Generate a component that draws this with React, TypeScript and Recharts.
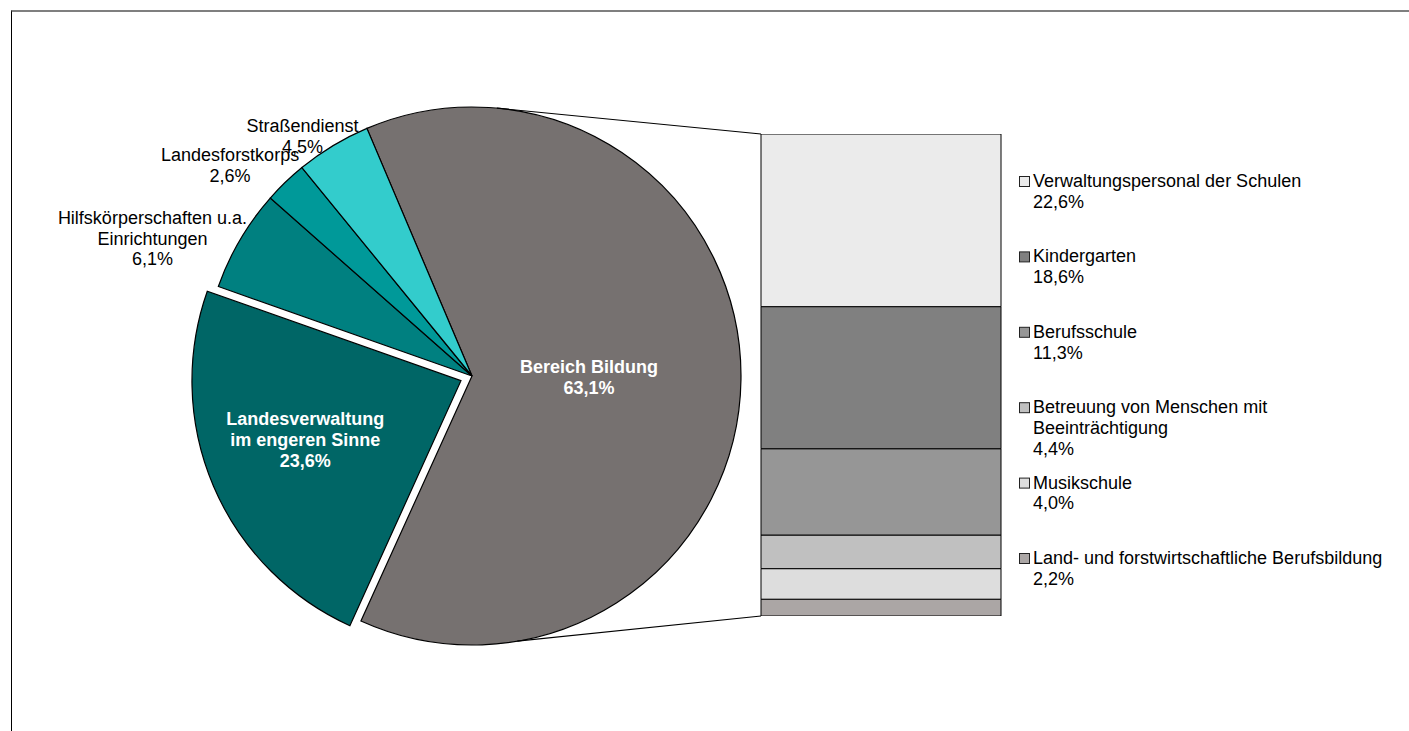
import { Bar, BarChart, Cell, Pie, PieChart, XAxis, YAxis } from "recharts";

// Pie: Personal des Landes nach Bereichen
const PIE_NAMES = [
  "Bereich Bildung",
  "Landesverwaltung im engeren Sinne",
  "Hilfskörperschaften u.a. Einrichtungen",
  "Landesforstkorps",
  "Straßendienst",
];
const PIE_VALUES = [63.1, 23.6, 6.1, 2.6, 4.5];
const PIE_LABEL_LINES = [
  ["Bereich Bildung"],
  ["Landesverwaltung", "im engeren Sinne"],
  ["Hilfskörperschaften u.a.", "Einrichtungen"],
  ["Landesforstkorps"],
  ["Straßendienst"],
];
const PIE_COLORS = ["#767170", "#006666", "#008080", "#009999", "#33cccc"];

// Bar: Aufteilung Bereich Bildung (top to bottom)
const BAR_NAMES = [
  "Verwaltungspersonal der Schulen",
  "Kindergarten",
  "Berufsschule",
  "Betreuung von Menschen mit Beeinträchtigung",
  "Musikschule",
  "Land- und forstwirtschaftliche Berufsbildung",
];
const BAR_VALUES = [22.6, 18.6, 11.3, 4.4, 4.0, 2.2];
const BAR_LABEL_LINES = [
  ["Verwaltungspersonal der Schulen"],
  ["Kindergarten"],
  ["Berufsschule"],
  ["Betreuung von Menschen mit", "Beeinträchtigung"],
  ["Musikschule"],
  ["Land- und forstwirtschaftliche Berufsbildung"],
];
const BAR_COLORS = ["#ebebeb", "#808080", "#969696", "#c0c0c0", "#dddddd", "#aba6a5"];

const W = 1409;
const H = 731;
const FONT = "'Liberation Sans', Arial, sans-serif";
const FS = 18;
const LH = 20.7;

const PIE_CX = 472;
const PIE_CY = 376;
const PIE_R = 269;
const START = 113;
const EXPLODE_INDEX = 1;
const EXPLODE = 12;

// label placement: distance from centre and angle shift relative to midAngle
const LABEL_LAYOUT = [
  { dist: 117, shift: 0, inside: true },
  { dist: 166.5, shift: -2.4, inside: true },
  { dist: 348, shift: 7.1, inside: false },
  { dist: 321, shift: 5.0, inside: false },
  { dist: 294, shift: 4.1, inside: false },
];

const BAR_LEFT = 760;
const BAR_TOP = 133;
const BAR_W = 242;
const BAR_H = 484;

const LEGEND_X = 1019;
const LEGEND_Y0 = 187;
const LEGEND_STEP = 75.4;

const RAD = Math.PI / 180;
const fmt = (v: number) => v.toFixed(1).replace(".", ",") + "%";
const total = BAR_VALUES.reduce((a, b) => a + b, 0);

const pieData = PIE_NAMES.map((name, i) => ({ name, value: PIE_VALUES[i] }));
const barRow: Record<string, number | string> = { name: "Bereich Bildung" };
BAR_NAMES.forEach((n, i) => (barRow[n] = BAR_VALUES[i]));
const barData = [barRow];

// angle of the "Bereich Bildung" slice centre, used for explode offset
const angles = (() => {
  const sum = PIE_VALUES.reduce((a, b) => a + b, 0);
  let a = START;
  return PIE_VALUES.map((v) => {
    const span = (v / sum) * 360;
    const mid = a - span / 2;
    a -= span;
    return mid;
  });
})();
const exMid = angles[EXPLODE_INDEX];
const EX_CX = PIE_CX + EXPLODE * Math.cos(-exMid * RAD);
const EX_CY = PIE_CY + EXPLODE * Math.sin(-exMid * RAD);

function makeLabel(exploded: boolean) {
  return (props: any) => {
    const { cx, cy, midAngle, index } = props;
    if ((index === EXPLODE_INDEX) !== exploded) return null;
    const lay = LABEL_LAYOUT[index];
    const ang = midAngle + lay.shift;
    const x = cx + lay.dist * Math.cos(-ang * RAD);
    const y = cy + lay.dist * Math.sin(-ang * RAD);
    const lines = [...PIE_LABEL_LINES[index], fmt(PIE_VALUES[index])];
    const y0 = y - ((lines.length - 1) * LH) / 2 + 6.4;
    return (
      <text
        key={`lbl-${index}`}
        x={x}
        y={y0}
        textAnchor="middle"
        fontFamily={FONT}
        fontSize={FS}
        fontWeight={lay.inside ? 700 : 400}
        fill={lay.inside ? "#ffffff" : "#000000"}
      >
        {lines.map((l, i) => (
          <tspan key={i} x={x} y={y0 + i * LH}>
            {l}
          </tspan>
        ))}
      </text>
    );
  };
}

export default function App() {
  const topPt = {
    x: PIE_CX + PIE_R * Math.cos(84.7 * RAD),
    y: PIE_CY - PIE_R * Math.sin(84.7 * RAD),
  };
  const botPt = {
    x: PIE_CX + PIE_R * Math.cos(-80.3 * RAD),
    y: PIE_CY - PIE_R * Math.sin(-80.3 * RAD),
  };
  const barX = BAR_LEFT + 1;
  const barTop = BAR_TOP + 1;
  const barBottom = BAR_TOP + BAR_H - 1;

  return (
    <div
      style={{
        position: "absolute",
        left: 0,
        top: 0,
        width: W,
        height: H,
        overflow: "hidden",
        background: "#fff",
        fontFamily: FONT,
      }}
    >
      <div
        style={{
          position: "absolute",
          left: 11,
          top: 10,
          width: W,
          height: H,
          borderTop: "2px solid #7f7f7f",
          borderLeft: "1px solid #000",
        }}
      />

      <div style={{ position: "absolute", left: 0, top: 0 }}>
        <PieChart width={W} height={H} margin={{ top: 0, right: 0, bottom: 0, left: 0 }}>
          <Pie
            data={pieData}
            dataKey="value"
            nameKey="name"
            cx={PIE_CX}
            cy={PIE_CY}
            outerRadius={PIE_R}
            startAngle={START}
            endAngle={START - 360}
            stroke="#000"
            strokeWidth={1.2}
            label={makeLabel(false)}
            labelLine={false}
            isAnimationActive={false}
          >
            {pieData.map((d, i) => (
              <Cell
                key={d.name}
                fill={i === EXPLODE_INDEX ? "none" : PIE_COLORS[i]}
                stroke={i === EXPLODE_INDEX ? "none" : "#000"}
              />
            ))}
          </Pie>
          <Pie
            data={pieData}
            dataKey="value"
            nameKey="name"
            cx={EX_CX}
            cy={EX_CY}
            outerRadius={PIE_R}
            startAngle={START}
            endAngle={START - 360}
            stroke="#000"
            strokeWidth={1.2}
            label={makeLabel(true)}
            labelLine={false}
            isAnimationActive={false}
          >
            {pieData.map((d, i) => (
              <Cell
                key={d.name}
                fill={i === EXPLODE_INDEX ? PIE_COLORS[i] : "none"}
                stroke={i === EXPLODE_INDEX ? "#000" : "none"}
              />
            ))}
          </Pie>
        </PieChart>
      </div>

      <div style={{ position: "absolute", left: BAR_LEFT, top: BAR_TOP }}>
        <BarChart
          width={BAR_W}
          height={BAR_H}
          data={barData}
          margin={{ top: 1, right: 1, bottom: 1, left: 1 }}
          barCategoryGap={0}
        >
          <XAxis dataKey="name" hide />
          <YAxis type="number" domain={[0, total]} hide allowDataOverflow />
          {[...BAR_NAMES].reverse().map((n) => {
            const i = BAR_NAMES.indexOf(n);
            return (
              <Bar
                key={n}
                dataKey={n}
                stackId="a"
                fill={BAR_COLORS[i]}
                stroke="#000"
                strokeWidth={1}
                isAnimationActive={false}
              />
            );
          })}
        </BarChart>
      </div>

      <svg
        width={W}
        height={H}
        style={{ position: "absolute", left: 0, top: 0, pointerEvents: "none" }}
      >
        <line x1={topPt.x} y1={topPt.y} x2={barX} y2={barTop} stroke="#000" strokeWidth={1.2} />
        <line x1={botPt.x} y1={botPt.y} x2={barX} y2={barBottom} stroke="#000" strokeWidth={1.2} />
        {BAR_NAMES.map((n, i) => {
          const y = LEGEND_Y0 + i * LEGEND_STEP;
          const lines = [...BAR_LABEL_LINES[i], fmt(BAR_VALUES[i])];
          return (
            <g key={n}>
              <rect
                x={LEGEND_X + 0.5}
                y={y - 10.5}
                width={10}
                height={10}
                fill={BAR_COLORS[i]}
                stroke="#222"
                strokeWidth={1}
              />
              <text fontFamily={FONT} fontSize={FS} fill="#000">
                {lines.map((l, j) => (
                  <tspan key={j} x={LEGEND_X + 14} y={y + j * LH}>
                    {l}
                  </tspan>
                ))}
              </text>
            </g>
          );
        })}
      </svg>
    </div>
  );
}
